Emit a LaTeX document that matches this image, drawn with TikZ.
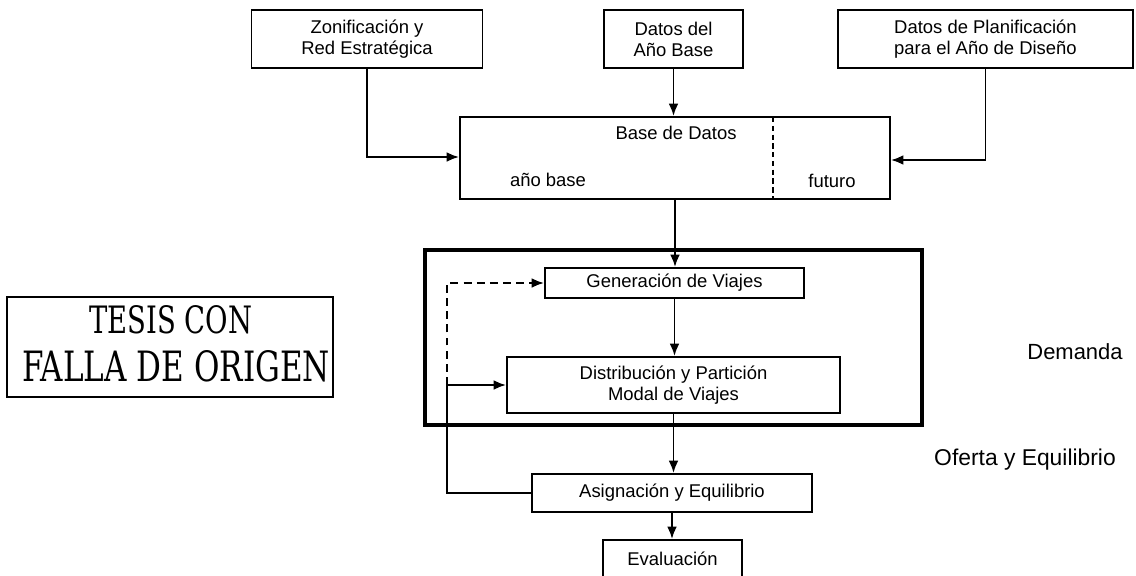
\documentclass[tikz,border=0pt]{standalone}
\usepackage{fontspec}
\setmainfont{Liberation Sans}
\newfontfamily\stampfont{DejaVu Serif}
\usetikzlibrary{arrows.meta}
\begin{document}
\begin{tikzpicture}[x=0.02cm,y=-0.02cm,
  every node/.style={font=\fontsize{10.5}{12}\selectfont, align=center},
  box/.style={draw, line width=1.1pt, inner sep=0pt},
  conn/.style={line width=1.1pt, -{Latex[length=7pt,width=5.5pt]}},
  plain/.style={line width=1.1pt},
  sidelabel/.style={font=\fontsize{12.5}{14}\selectfont},
  stampline/.style={font=\stampfont, inner sep=0pt},
]
\useasboundingbox (0,0) rectangle (1136,575);

% input boxes
\node[box, minimum width=231*0.02cm, minimum height=58*0.02cm] (zon) at (367,39)
  {Zonificación y\\Red Estratégica};
\node[box, minimum width=139*0.02cm, minimum height=58*0.02cm] (dab) at (673.5,39)
  {Datos del\\Año Base};
\node[box, minimum width=295*0.02cm, minimum height=58*0.02cm] (dpl) at (985.5,39)
  {Datos de Planificación\\para el Año de Diseño};

% database box with its divider
\node[box, minimum width=430*0.02cm, minimum height=82*0.02cm] (bd) at (675,158) {};
\coordinate (divtop) at (773,117);
\coordinate (divbot) at (773,199);
\draw[plain, densely dashed] (divtop) -- (divbot);
\node (bdtitle) at (676,133) {Base de Datos};
\node (bdbase) at (548,180) {año base};
\node (bdfut) at (832,181) {futuro};

% demand frame
\coordinate (frnw) at (425,250);
\coordinate (frse) at (922,425);
\draw[line width=2.3pt] (frnw) rectangle (frse);

% model steps
\node[box, minimum width=259*0.02cm, minimum height=30*0.02cm] (gen) at (674.5,283)
  {Generación de Viajes};
\node[box, minimum width=333*0.02cm, minimum height=56*0.02cm] (dis) at (673.5,385)
  {Distribución y Partición\\Modal de Viajes};
\node[box, minimum width=280*0.02cm, minimum height=38*0.02cm] (asi) at (672,493)
  {Asignación y Equilibrio};
\node[box, minimum width=139*0.02cm, minimum height=38*0.02cm] (eva) at (672.5,559)
  {Evaluación};

% side labels
\node[sidelabel] (dem) at (1075,352) {Demanda};
\node[sidelabel, font=\fontsize{13}{15}\selectfont] (ofe) at (1025,460) {Oferta y Equilibrio};

% stamp
\node[draw, line width=1.5pt, minimum width=326*0.02cm, minimum height=100*0.02cm,
  inner sep=0pt] (stamp) at (170,347) {};
\node[stampline] (st1) at (171,320) {\resizebox{3.26cm}{0.56cm}{TESIS CON}};
\node[stampline] (st2) at (176,366.5) {\resizebox{6.16cm}{0.62cm}{FALLA DE ORIGEN}};

% connectors
\coordinate (zbend) at (zon.south |- 0,157);
\draw[conn] (zon.south) -- (zbend) -- (bd.west |- zbend);
\coordinate (pbend) at (dpl.south |- 0,160);
\draw[conn] (dpl.south) -- (pbend) -- (bd.east |- pbend);
\draw[conn] (dab.south) -- (dab.south |- bd.north);
\draw[conn] (bd.south) -- (bd.south |- gen.north);
\draw[conn] (gen.south) -- (gen.south |- dis.north);
\draw[conn] (dis.south) -- (dis.south |- asi.north);
\draw[conn] (asi.south) -- (asi.south |- eva.north);

% feedback loop
\coordinate (fbl) at (447,0);
\coordinate (fbmid) at (fbl |- dis.west);
\draw[plain] (asi.west) -- (fbl |- asi.west) -- (fbmid);
\draw[conn] (fbmid) -- (dis.west);
\draw[conn, dash pattern=on 4.5pt off 3pt] (fbmid) -- (fbl |- gen.west) -- (gen.west);
\end{tikzpicture}
\end{document}
